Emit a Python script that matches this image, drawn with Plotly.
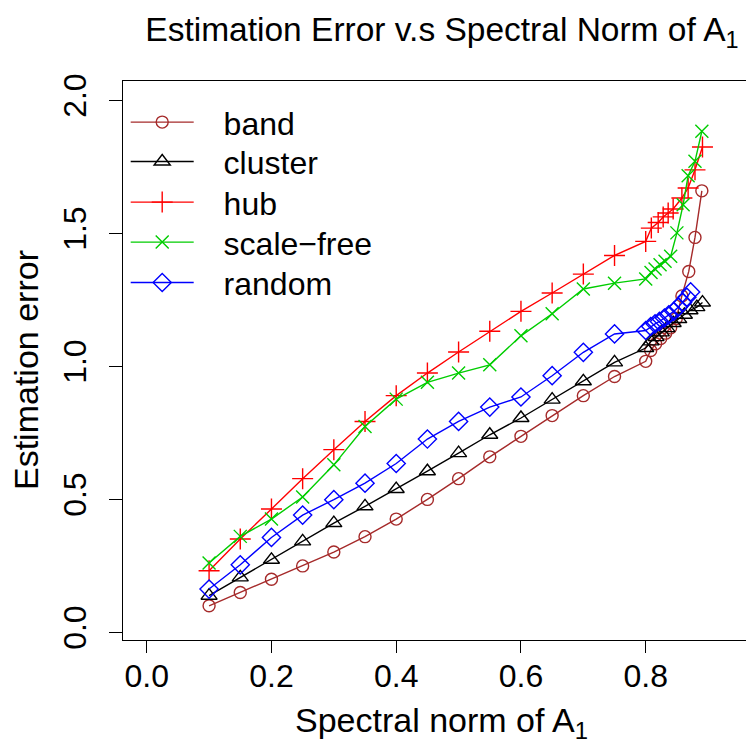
import plotly.graph_objects as go

# ---------------- data ----------------
x_base = [0.10, 0.15, 0.20, 0.25, 0.30, 0.35, 0.40, 0.45, 0.50, 0.55, 0.60, 0.65, 0.70, 0.75, 0.80]

band_x_dense = [0.808, 0.816, 0.824, 0.832, 0.840, 0.849, 0.858, 0.869, 0.879, 0.890]
band_y = [0.100, 0.150, 0.200, 0.250, 0.302, 0.360, 0.426, 0.500, 0.578, 0.660,
          0.737, 0.815, 0.890, 0.962, 1.019]
band_y_dense = [1.060, 1.085, 1.105, 1.125, 1.145, 1.180, 1.265, 1.357, 1.485, 1.660]

cluster_x_dense = [0.8085, 0.8165, 0.825, 0.834, 0.844, 0.853, 0.862, 0.871, 0.882, 0.891]
cluster_y = [0.138, 0.207, 0.273, 0.342, 0.411, 0.474, 0.539, 0.606, 0.674, 0.743,
             0.806, 0.875, 0.944, 1.015, 1.069]
cluster_y_dense = [1.094, 1.110, 1.128, 1.144, 1.163, 1.178, 1.194, 1.211, 1.223, 1.240]

hub_x_dense = [0.809, 0.820, 0.828, 0.836, 0.844, 0.858, 0.868, 0.879, 0.891]
hub_y = [0.232, 0.351, 0.464, 0.578, 0.687, 0.793, 0.890, 0.975, 1.054, 1.132,
         1.207, 1.276, 1.347, 1.417, 1.470]
hub_y_dense = [1.520, 1.541, 1.562, 1.577, 1.592, 1.633, 1.671, 1.739, 1.825]

sf_x_dense = [0.8085, 0.815, 0.823, 0.831, 0.840, 0.850, 0.860, 0.868, 0.879, 0.890]
sf_y = [0.261, 0.361, 0.426, 0.509, 0.630, 0.774, 0.877, 0.940, 0.975, 1.006,
        1.115, 1.198, 1.291, 1.313, 1.329]
sf_y_dense = [1.353, 1.366, 1.382, 1.395, 1.414, 1.502, 1.608, 1.717, 1.771, 1.884]

random_x_dense = [0.808, 0.815, 0.822, 0.830, 0.837, 0.845, 0.852, 0.859, 0.866, 0.872]
random_y = [0.163, 0.254, 0.357, 0.441, 0.499, 0.561, 0.635, 0.727, 0.793, 0.847,
            0.885, 0.965, 1.053, 1.122, 1.135]
random_y_dense = [1.150, 1.160, 1.169, 1.182, 1.194, 1.207, 1.222, 1.240, 1.260, 1.280]

series_names = ["band", "cluster", "hub", "scale\u2212free", "random"]
x_ticks = [0.0, 0.2, 0.4, 0.6, 0.8]
x_tick_labels = ["0.0", "0.2", "0.4", "0.6", "0.8"]
y_ticks = [0.0, 0.5, 1.0, 1.5, 2.0]
y_tick_labels = ["0.0", "0.5", "1.0", "1.5", "2.0"]

title_text = "Estimation Error v.s Spectral Norm of A<sub>1</sub>"
x_title = "Spectral norm of A<sub>1</sub>"
y_title = "Estimation error"

# ---------------- figure ----------------
# The page body has an 8px margin, so the figure is sized to fill the rest of the window.
FONT = "Liberation Sans, Arial, Helvetica, sans-serif"
OFF = 8
W, H = 754 - OFF, 740 - OFF
ML, MR, MT, MB = 115, 0, 73, 100
PW = W - ML - MR
PH = H - MT - MB
PLOT_BOTTOM = MT + PH


def paper_x(screen_x):
    return (screen_x - OFF - ML) / PW


def paper_y(screen_y):
    return (PLOT_BOTTOM - (screen_y - OFF)) / PH


series = [
    (series_names[0], x_base + band_x_dense, band_y + band_y_dense, "#A52A2A", "circle-open", 12),
    (series_names[1], x_base + cluster_x_dense, cluster_y + cluster_y_dense, "#000000", "triangle-up-open", 14),
    (series_names[2], x_base + hub_x_dense, hub_y + hub_y_dense, "#FF0000", "cross-thin-open", 15),
    (series_names[3], x_base + sf_x_dense, sf_y + sf_y_dense, "#00CD00", "x-thin-open", 13),
    (series_names[4], x_base + random_x_dense, random_y + random_y_dense, "#0000FF", "diamond-open", 14),
]
legend_rows = [122.3, 161.7, 202.3, 242.3, 282.7]  # screen y of each legend entry

fig = go.Figure()
legend_layout = {}
for i, (name, xs, ys, col, sym, sz) in enumerate(series):
    key = "legend" if i == 0 else f"legend{i + 1}"
    fig.add_trace(go.Scatter(
        x=xs, y=ys, name="\u2002 " + name, mode="lines+markers",
        line=dict(color=col, width=1.4),
        marker=dict(symbol=sym, size=sz, color=col, line=dict(color=col, width=1.4)),
        legend=key,
    ))
    legend_layout[key] = dict(
        x=paper_x(123 + 2.7), y=paper_y(legend_rows[i]), xanchor="left", yanchor="middle",
        bgcolor="rgba(0,0,0,0)", borderwidth=0, itemwidth=63,
        font=dict(size=32, family=FONT, color="black"),
    )

fig.update_layout(
    width=W, height=H,
    margin=dict(l=ML, r=MR, t=MT, b=MB, pad=0),
    paper_bgcolor="white", plot_bgcolor="white",
    font=dict(family=FONT, size=32, color="black"),
    title=dict(text=title_text, x=paper_x(442), xref="paper", xanchor="center",
               y=1 - (29 - OFF) / H, yref="container", yanchor="middle",
               font=dict(size=33.5, family=FONT, color="black")),
    showlegend=True,
    xaxis=dict(range=[-0.038, 0.9736], tickvals=x_ticks, ticktext=x_tick_labels,
               showgrid=False, zeroline=False, showline=True, mirror=True,
               linecolor="black", linewidth=1.3, ticks="outside", ticklen=12,
               tickwidth=1.3, tickcolor="black", tickfont=dict(size=32),
               ticklabelstandoff=-5),
    yaxis=dict(range=[-0.0286, 2.073], tickvals=y_ticks, ticktext=y_tick_labels,
               showgrid=False, zeroline=False, showline=True, mirror=False,
               linecolor="black", linewidth=1.3, ticks="outside", ticklen=13,
               tickwidth=1.3, tickcolor="black", tickangle=-90, tickfont=dict(size=32),
               ticklabelstandoff=10),
    annotations=[
        dict(text=x_title, xref="paper", yref="paper", x=paper_x(441),
             y=paper_y(722), xanchor="center", yanchor="middle",
             showarrow=False, font=dict(size=34)),
        dict(text=y_title, xref="paper", yref="paper", x=paper_x(26),
             y=paper_y(370), xanchor="center", yanchor="middle",
             textangle=-90, showarrow=False, font=dict(size=34)),
    ],
    **legend_layout,
)

fig.write_html("out.html")
